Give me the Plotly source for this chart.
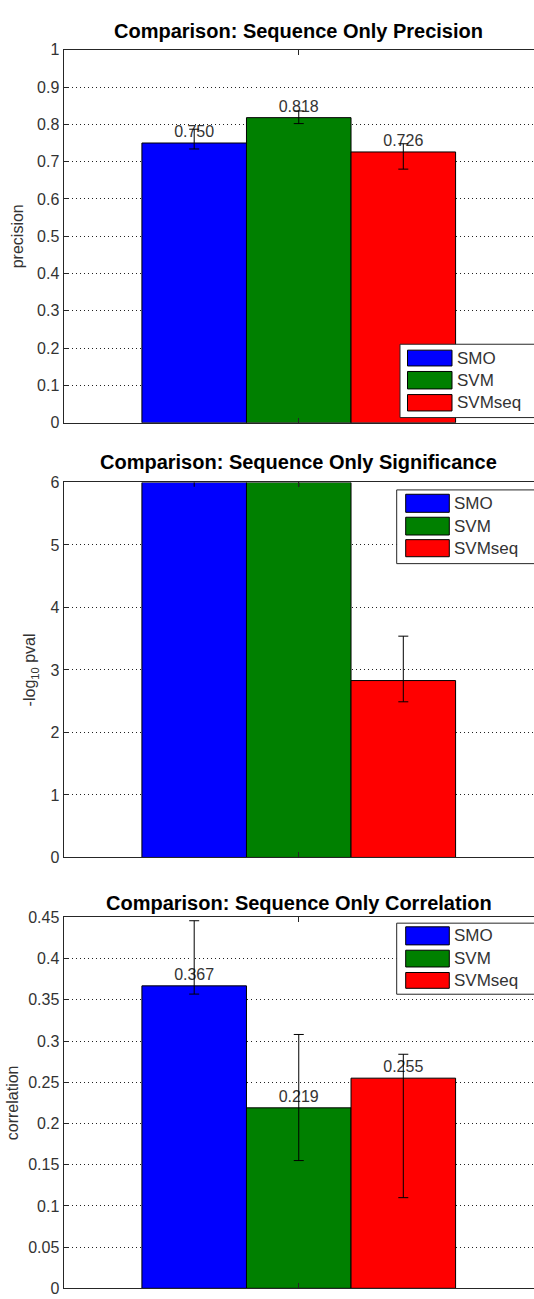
import plotly.graph_objects as go

# ---- data -------------------------------------------------------------
SERIES = ["SMO", "SVM", "SVMseq"]
COLORS = ["#0000ff", "#008000", "#ff0000"]

PRECISION = [0.750, 0.818, 0.726]
PRECISION_ERR_PLUS = [0.037, 0.018, 0.022]
PRECISION_ERR_MINUS = [0.016, 0.016, 0.046]

SIGNIFICANCE = [6.0, 6.0, 2.83]
SIGNIFICANCE_ERR_PLUS = [0.06, 0.06, 0.71]
SIGNIFICANCE_ERR_MINUS = [0.07, 0.07, 0.34]

CORRELATION = [0.367, 0.219, 0.255]
CORRELATION_ERR_PLUS = [0.079, 0.089, 0.029]
CORRELATION_ERR_MINUS = [0.010, 0.064, 0.145]

TITLES = [
    "Comparison: Sequence Only Precision",
    "Comparison: Sequence Only Significance",
    "Comparison: Sequence Only Correlation",
]
YLABELS = ["precision", "-log<sub>10</sub> pval", "correlation"]
YRANGES = [(0, 1), (0, 6), (0, 0.45)]
YDTICKS = [0.1, 1, 0.05]
SHOW_VALUES = [True, False, True]
CAP_WIDTHS = [[5, 5, 5], [0, 0, 5], [5, 5, 5]]

PANELS = [
    (PRECISION, PRECISION_ERR_PLUS, PRECISION_ERR_MINUS),
    (SIGNIFICANCE, SIGNIFICANCE_ERR_PLUS, SIGNIFICANCE_ERR_MINUS),
    (CORRELATION, CORRELATION_ERR_PLUS, CORRELATION_ERR_MINUS),
]

# ---- layout geometry (pixels) -----------------------------------------
W, H = 534, 1299
PLOT_LEFT = 63.5
PANEL_PX = [(42.3, 420.3), (480.7, 860.7), (921.5, 1297.3)]  # top, bottom
TITLE_PX = [23, 460, 907]
YTITLE_STANDOFF = [9, 10, 5]
# legend: box left, box top, box bottom, swatch left, swatch right, text x, swatch rows
LEGEND_PX = [
    (400, 340.7, 415, 407.5, 452, 455, [(346.7, 362.7), (368.3, 386), (391.7, 408.3)]),
    (396.7, 488.3, 563, 405.7, 449.3, 452, [(492.7, 511), (516, 534), (538.7, 556)]),
    (396.7, 927.3, 999.3, 405.7, 449.3, 452, [(931, 949.3), (954.7, 971.7), (977.3, 993.3)]),
]

FONT = "Liberation Sans, Arial, Helvetica, sans-serif"
AXIS_COLOR = "#262626"
TEXT_COLOR = "#333333"


def px_x(x):
    return x / W


def px_y(y):
    return 1 - y / H


N = len(SERIES)
BAR_W = (N / (N + 1.5)) / N          # grouped-bar width per series
OFFSETS = [(i - N / 2) * BAR_W for i in range(N)]

fig = go.Figure()
shapes, annotations = [], []

for p, (vals, eplus, eminus) in enumerate(PANELS):
    ax = "" if p == 0 else str(p + 1)
    for i, name in enumerate(SERIES):
        bar = dict(
            x=[1], y=[vals[i]], name=name,
            width=[BAR_W], offset=[OFFSETS[i]],
            marker=dict(color=COLORS[i], line=dict(color="#000000", width=1)),
            error_y=dict(type="data", symmetric=False,
                         array=[eplus[i]], arrayminus=[eminus[i]],
                         color="#000000", thickness=1, width=CAP_WIDTHS[p][i]),
            xaxis="x" + ax, yaxis="y" + ax,
            showlegend=False, hoverinfo="skip",
        )
        if SHOW_VALUES[p]:
            bar.update(
                texttemplate="%{y:.3f}", textposition="outside",
                textfont=dict(family=FONT, size=16, color=TEXT_COLOR),
                cliponaxis=False,
            )
        fig.add_trace(go.Bar(**bar))

    top, bottom = PANEL_PX[p]
    ydom = [px_y(bottom), px_y(top)]
    fig.update_layout(**{
        "xaxis" + ax: dict(
            domain=[px_x(PLOT_LEFT), 1], range=[0.5, 1.5], anchor="y" + ax,
            showline=True, linecolor=AXIS_COLOR, linewidth=1, mirror="ticks",
            ticks="inside", ticklen=5, tickcolor=AXIS_COLOR, tickvals=[1],
            showticklabels=False, showgrid=False, zeroline=False, fixedrange=True,
        ),
        "yaxis" + ax: dict(
            domain=ydom, range=list(YRANGES[p]), anchor="x" + ax,
            tick0=0, dtick=YDTICKS[p],
            showline=True, linecolor=AXIS_COLOR, linewidth=1,
            ticks="inside", ticklen=5, tickcolor=AXIS_COLOR,
            tickfont=dict(family=FONT, size=16, color=TEXT_COLOR),
            showgrid=True, gridcolor="#222222", gridwidth=1, griddash="1px,3px",
            zeroline=False, fixedrange=True, automargin=True,
            title=dict(text=YLABELS[p], standoff=YTITLE_STANDOFF[p],
                       font=dict(family=FONT, size=16, color=TEXT_COLOR)),
        ),
    })

    annotations.append(dict(
        text="<b>%s</b>" % TITLES[p], xref="paper", yref="paper",
        x=px_x((PLOT_LEFT + W) / 2), y=px_y(TITLE_PX[p]),
        xanchor="center", yanchor="middle", showarrow=False,
        font=dict(family=FONT, size=20, color="#000000"),
    ))

    # legend box with swatches
    bx, by0, by1, sx0, sx1, tx, rows = LEGEND_PX[p]
    shapes.append(dict(
        type="rect", xref="paper", yref="paper",
        x0=px_x(bx), x1=px_x(W + 10), y0=px_y(by1), y1=px_y(by0),
        fillcolor="#ffffff", line=dict(color=AXIS_COLOR, width=1), layer="above",
    ))
    for i, name in enumerate(SERIES):
        r0, r1 = rows[i]
        shapes.append(dict(
            type="rect", xref="paper", yref="paper",
            x0=px_x(sx0), x1=px_x(sx1), y0=px_y(r1), y1=px_y(r0),
            fillcolor=COLORS[i], line=dict(color="#000000", width=1), layer="above",
        ))
        annotations.append(dict(
            text=name, xref="paper", yref="paper",
            x=px_x(tx), y=px_y((r0 + r1) / 2),
            xanchor="left", yanchor="middle", showarrow=False,
            font=dict(family=FONT, size=17, color=TEXT_COLOR),
        ))

fig.update_layout(
    width=W, height=H,
    margin=dict(l=0, r=0, t=0, b=0),
    paper_bgcolor="#ffffff", plot_bgcolor="#ffffff",
    barmode="overlay",
    showlegend=False,
    shapes=shapes, annotations=annotations,
    font=dict(family=FONT, color=TEXT_COLOR),
)

fig.write_html("out.html")
